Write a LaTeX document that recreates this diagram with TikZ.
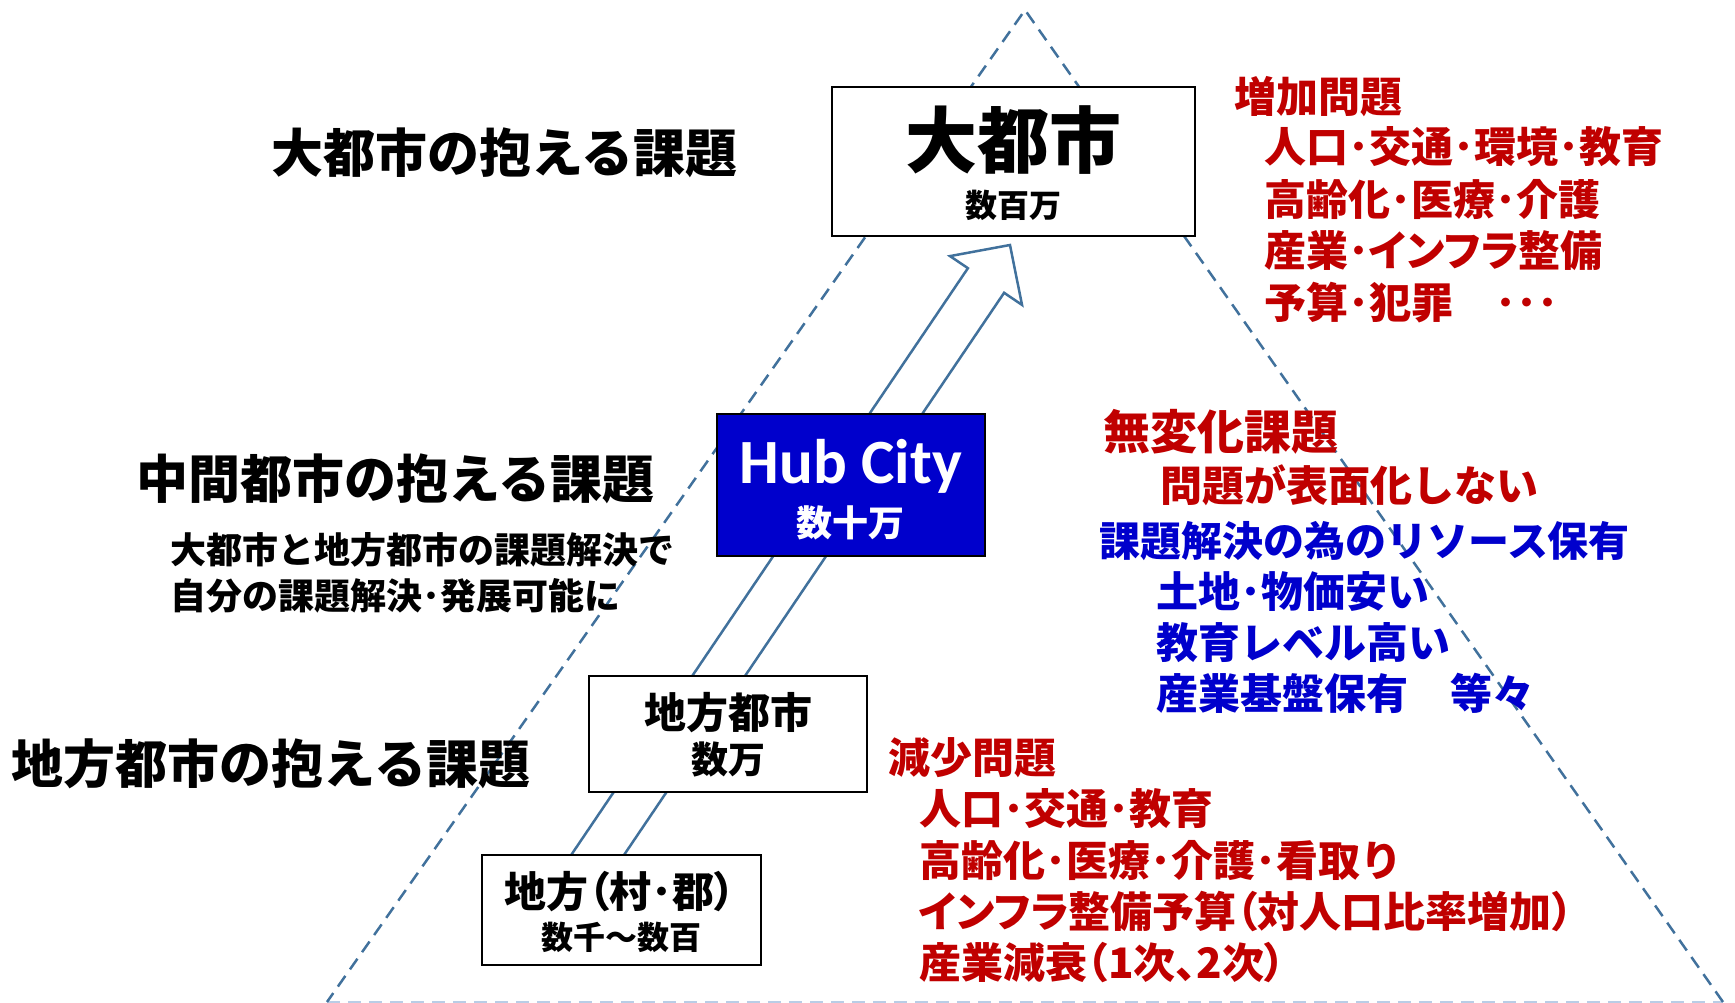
\documentclass[tikz,border=0pt]{standalone}
\usepackage{fontspec}
\setmainfont{Noto Sans CJK JP}
\newfontfamily\carlito{Carlito}
\newfontfamily\jpp{Noto Sans CJK JP}[RawFeature=+palt]
\definecolor{tred}{RGB}{192,0,0}
\definecolor{tblue}{RGB}{0,0,204}
\definecolor{lineblue}{RGB}{65,113,156}
\definecolor{lightline}{RGB}{185,205,230}
\newcommand{\fsz}[1]{\fontsize{#1}{#1}\selectfont\bfseries}
\tikzset{
  every node/.style={inner sep=0pt, outer sep=0pt},
  box/.style={draw=black, line width=2pt, fill=white, rectangle},
  hubbox/.style={draw=black, line width=2pt, fill=tblue, rectangle},
  tri/.style={draw=lineblue, line width=2.5pt, dash pattern=on 13pt off 8pt},
  trib/.style={draw=lightline, line width=2.5pt, dash pattern=on 13pt off 8pt},
  bigarrow/.style={draw=lineblue, line width=2.5pt, fill=white, line join=miter},
  lt/.style={anchor=base west},
  ct/.style={anchor=base},
}
\begin{document}
\begin{tikzpicture}[x=1pt,y=-1pt]
\useasboundingbox (0,0) rectangle (1735,1003);
\clip (0,0) rectangle (1735,1003);
% pyramid
\coordinate (apex) at (1025,10);
\coordinate (bl) at (327,1002);
\coordinate (br) at (1723,1002);
\draw[trib] (bl) -- (br);
\draw[tri] (br) -- (apex) -- (bl);
% big outline arrow
\coordinate (tip) at (1010,245);
\coordinate (tl) at (542.3,897.7);
\coordinate (tr) at (578.5,922.3);
\coordinate (nl) at (967.9,268.2);
\coordinate (nr) at (1004.1,292.8);
\coordinate (bwl) at (950,256.1);
\coordinate (bwr) at (1022,304.9);
\draw[bigarrow] (tl) -- (nl) -- (bwl) -- (tip) -- (bwr) -- (nr) -- (tr) -- cycle;
% boxes
\node[box, minimum width=363pt, minimum height=149pt] (big) at (1013.5,161.5) {};
\node[hubbox, minimum width=268pt, minimum height=142pt] (hub) at (851,485) {};
\node[box, minimum width=278pt, minimum height=116pt] (city) at (728,734) {};
\node[box, minimum width=279pt, minimum height=110pt] (vil) at (621.5,910) {};
% box texts
\node[ct, font=\fsz{72}] (bigt) at (1013.5,168) {大都市};
\node[ct, font=\fsz{32}] (bigs) at (1013.5,218) {数百万};
\node[ct, font=\carlito\fontsize{63}{63}\selectfont\bfseries, text=white] (hubt) at (851,483) {Hub City};
\node[ct, font=\fsz{36}, text=white] (hubs) at (850,536) {数十万};
\node[ct, font=\fsz{42}] (cityt) at (728,728) {地方都市};
\node[ct, font=\fsz{37}] (citys) at (728,773) {数万};
\node[ct, font=\jpp\fsz{42}] (vilt) at (620,907) {地方（村･郡）};
\node[ct, font=\fsz{32}] (vils) at (621.5,949) {数千～数百};
% left headings
\node[lt, font=\fsz{52}] (h1) at (271,173) {大都市の抱える課題};
\node[lt, font=\fsz{52}] (h2) at (136,498) {中間都市の抱える課題};
\node[lt, font=\fsz{36}] (h2a) at (170,563) {大都市と地方都市の課題解決で};
\node[lt, font=\fsz{36}] (h2b) at (170,609) {自分の課題解決･発展可能に};
\node[lt, font=\fsz{52}] (h3) at (12,783) {地方都市の抱える課題};
% right: big city problems
\node[lt, font=\fsz{42}, text=tred] (r1) at (1234,113) {増加問題};
\node[lt, font=\fsz{42}, text=tred] (r1a) at (1264,163) {人口･交通･環境･教育};
\node[lt, font=\fsz{42}, text=tred] (r1b) at (1264,216) {高齢化･医療･介護};
\node[lt, font=\jpp\fsz{42}, text=tred] (r1c) at (1264,266) {産業･インフラ整備};
\node[lt, font=\fsz{42}, text=tred] (r1d) at (1264,318) {予算･犯罪　･･･};
% right: hub city
\node[lt, font=\fsz{47}, text=tred] (r2) at (1103,449) {無変化課題};
\node[lt, font=\fsz{42}, text=tred] (r2a) at (1160,501) {問題が表面化しない};
\node[lt, font=\fsz{41}, text=tblue] (r3) at (1099,556) {課題解決の為のリソース保有};
\node[lt, font=\fsz{42}, text=tblue] (r3a) at (1156,607) {土地･物価安い};
\node[lt, font=\fsz{42}, text=tblue] (r3b) at (1156,658) {教育レベル高い};
\node[lt, font=\fsz{42}, text=tblue] (r3c) at (1156,709) {産業基盤保有　等々};
% right: local city problems
\node[lt, font=\fsz{42}, text=tred] (r4) at (888,773) {減少問題};
\node[lt, font=\fsz{42}, text=tred] (r4a) at (919,824) {人口･交通･教育};
\node[lt, font=\fsz{42}, text=tred] (r4b) at (919,876) {高齢化･医療･介護･看取り};
\node[lt, font=\jpp\fsz{42}, text=tred] (r4c) at (919,927) {インフラ整備予算（対人口比率増加）};
\node[lt, font=\jpp\fsz{42}, text=tred] (r4d) at (919,978) {産業減衰（1次、2次）};
\end{tikzpicture}
\end{document}
